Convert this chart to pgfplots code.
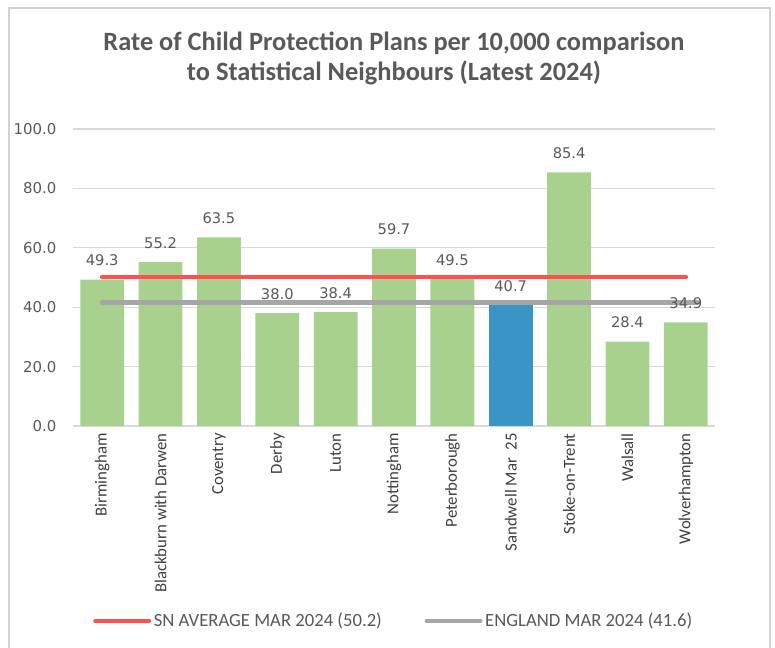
\documentclass[border=0pt]{standalone}
\usepackage{pgfplots}
\pgfplotsset{compat=1.18}
\usepackage{fontspec}
\setmainfont{Carlito}
\newfontfamily\numfont{DejaVu Sans}
\definecolor{bargreen}{HTML}{A9D18E}
\definecolor{barblue}{HTML}{3A95C6}
\definecolor{snred}{HTML}{FF4F4F}
\definecolor{enggray}{HTML}{A6A6A6}
\definecolor{txt}{HTML}{595959}
\definecolor{gridc}{HTML}{D9D9D9}
\begin{document}
\begin{tikzpicture}
\path[use as bounding box] (-54.75pt,-166.5pt) rectangle (526.5pt,319.5pt);
\draw[gray!35, line width=1pt] (-48pt,-166.5pt) -- (-48pt,313.5pt) -- (522.75pt,313.5pt) -- (522.75pt,-166.5pt);
\begin{axis}[
  at={(0,0)}, anchor=south west,
  scale only axis,
  width=481.5pt, height=222.75pt,
  xmin=-0.5, xmax=10.5,
  ymin=0, ymax=100,
  ytick={0,20,40,60,80,100},
  xtick={0,...,10},
  xticklabels={Birmingham,Blackburn with Darwen,Coventry,Derby,Luton,Nottingham,Peterborough,Sandwell Mar\ \ 25,Stoke-on-Trent,Walsall,Wolverhampton},
  x tick label style={rotate=90, anchor=east, font=\fontsize{12.6}{14}\selectfont, text=black!75, xshift=-2pt},
  y tick label style={font=\numfont\fontsize{11.2}{13}\selectfont, text=txt, xshift=-9pt},
  /pgf/number format/assume math mode=true,
  yticklabel style={/pgf/number format/.cd, fixed, fixed zerofill, precision=1},
  axis x line*=bottom,
  axis y line*=left,
  y axis line style={draw=none},
  ymajorgrids,
  grid style={gridc, line width=0.8pt},
  x axis line style={gridc, line width=0.8pt, -},
  major tick length=0pt,
  tick style={draw=none},
  title={Rate of Child Protection Plans per 10,000 comparison\\to Statistical Neighbours (Latest 2024)},
  title style={at={(0.5,1.21)}, anchor=center, align=center, font=\fontsize{19.8}{22.5}\selectfont\bfseries, text=txt},
  legend style={at={(0.5,-0.657)}, anchor=center, draw=none, fill=none, font=\fontsize{14}{16}\selectfont, text=txt, legend columns=2, /tikz/every even column/.append style={column sep=30pt}, /tikz/every odd column/.append style={column sep=0pt}},
  legend image code/.code={\draw[#1, line cap=round] (0,0) -- (40pt,0);},
  nodes near coords style={font=\numfont\fontsize{11}{13}\selectfont, text=txt, anchor=south, inner sep=0pt, yshift=10pt, /pgf/number format/.cd, fixed, fixed zerofill, precision=1},
]
\addplot[ybar, bar width=0.75, bar shift=0pt, fill=bargreen, draw=none, nodes near coords, forget plot] coordinates {
 (0,49.3) (1,55.2) (2,63.5) (3,38.0) (4,38.4) (5,59.7) (6,49.5) (8,85.4) (9,28.4) (10,34.9)};
\addplot[ybar, bar width=0.75, bar shift=0pt, fill=barblue, draw=none, nodes near coords, forget plot] coordinates {(7,40.7)};
\addplot[snred, line width=3.5pt, line cap=round] coordinates {(0,50.2) (10,50.2)};
\addlegendentry{SN AVERAGE MAR 2024 (50.2)}
\addplot[enggray, line width=3.5pt, line cap=round] coordinates {(0,41.6) (10.2,41.6)};
\addlegendentry{ENGLAND MAR 2024 (41.6)}
\end{axis}
\end{tikzpicture}
\end{document}
